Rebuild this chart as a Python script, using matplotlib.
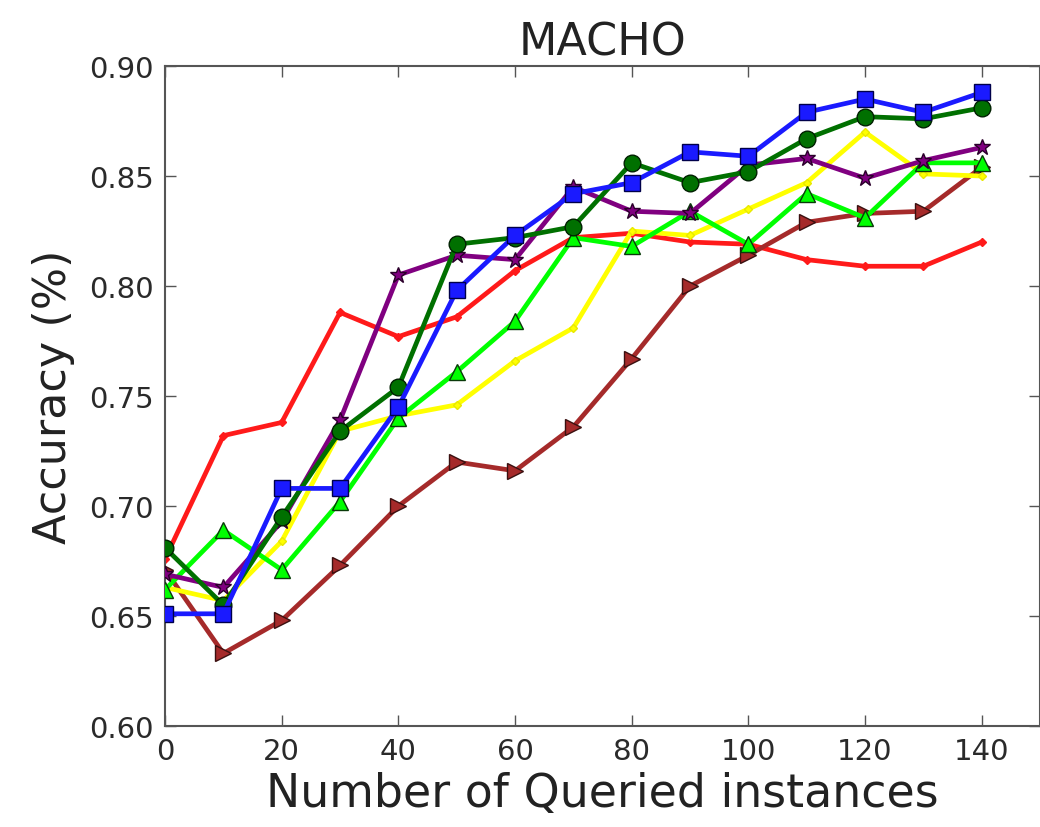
import numpy as np
import matplotlib
matplotlib.use("Agg")
import matplotlib.pyplot as plt

# queried instances
n_queried = [0, 10, 20, 30, 40, 50, 60, 70, 80, 90, 100, 110, 120, 130, 140]

# accuracy curves per query strategy
acc_blue   = [0.651, 0.651, 0.708, 0.708, 0.745, 0.798, 0.823, 0.842, 0.847, 0.861,
              0.859, 0.879, 0.885, 0.879, 0.888]
acc_dgreen = [0.681, 0.655, 0.695, 0.734, 0.754, 0.819, 0.822, 0.827, 0.856, 0.847,
              0.852, 0.867, 0.877, 0.876, 0.881]
acc_purple = [0.669, 0.663, 0.693, 0.739, 0.805, 0.814, 0.812, 0.845, 0.834, 0.833,
              0.855, 0.858, 0.849, 0.857, 0.863]
acc_lime   = [0.662, 0.689, 0.671, 0.702, 0.740, 0.761, 0.784, 0.822, 0.818, 0.834,
              0.819, 0.842, 0.831, 0.856, 0.856]
acc_yellow = [0.663, 0.657, 0.684, 0.734, 0.741, 0.746, 0.766, 0.781, 0.825, 0.823,
              0.835, 0.847, 0.870, 0.851, 0.850]
acc_red    = [0.676, 0.732, 0.738, 0.788, 0.777, 0.786, 0.807, 0.822, 0.824, 0.820,
              0.819, 0.812, 0.809, 0.809, 0.820]
acc_brown  = [0.671, 0.633, 0.648, 0.673, 0.700, 0.720, 0.716, 0.736, 0.767, 0.800,
              0.814, 0.829, 0.833, 0.834, 0.854]

x_ticks = [0, 20, 40, 60, 80, 100, 120, 140]
y_ticks = [0.60, 0.65, 0.70, 0.75, 0.80, 0.85, 0.90]

plt.rcParams['font.family'] = 'DejaVu Sans'
fig = plt.figure(figsize=(10.4, 8.28), dpi=100)
ax = fig.add_axes([0.1587, 0.122, 0.8413, 0.797])

lw = 3.4
ax.plot(n_queried, acc_red, color='#ff1a1a', lw=lw, marker='D', ms=4, mec='#ff1a1a', zorder=2)
ax.plot(n_queried, acc_brown, color='#a52a2a', lw=lw, marker='>', ms=12, mec='#3a1010', mew=1, zorder=3)
ax.plot(n_queried, acc_yellow, color='#ffff00', lw=lw, marker='D', ms=4, mec='#e8e800', zorder=4)
ax.plot(n_queried, acc_lime, color='#00ff00', lw=lw, marker='^', ms=12, mec='#0a3a0a', mew=1, zorder=5)
ax.plot(n_queried, acc_purple, color='#800080', lw=lw, marker='*', ms=12, mec='#2a002a', mew=1, zorder=6)
ax.plot(n_queried, acc_dgreen, color='#007000', lw=lw, marker='o', ms=12, mec='#002000', mew=1, zorder=7)
ax.plot(n_queried, acc_blue, color='#1a1aff', lw=lw, marker='s', ms=12, mec='#00004a', mew=1, zorder=8)

ax.set_xlim(0, 150)
ax.set_ylim(0.60, 0.90)
ax.set_xticks(x_ticks)
ax.set_yticks(y_ticks)
ax.set_yticklabels([f"{v:.2f}" for v in y_ticks])
ax.tick_params(direction='in', length=8, width=1, top=True, right=True,
               labelsize=21, labelcolor='#2a2a2a', color='#555555', pad=8)
for s in ax.spines.values():
    s.set_color('#555555')
    s.set_linewidth(1.5)

ax.set_title("MACHO", fontsize=32, color='#222222', pad=8)
ax.set_xlabel("Number of Queried instances", fontsize=33, color='#222222', labelpad=4)
ax.set_ylabel("Accuracy (%)", fontsize=32, color='#222222', labelpad=10)

fig.savefig("out.png", dpi=100)
